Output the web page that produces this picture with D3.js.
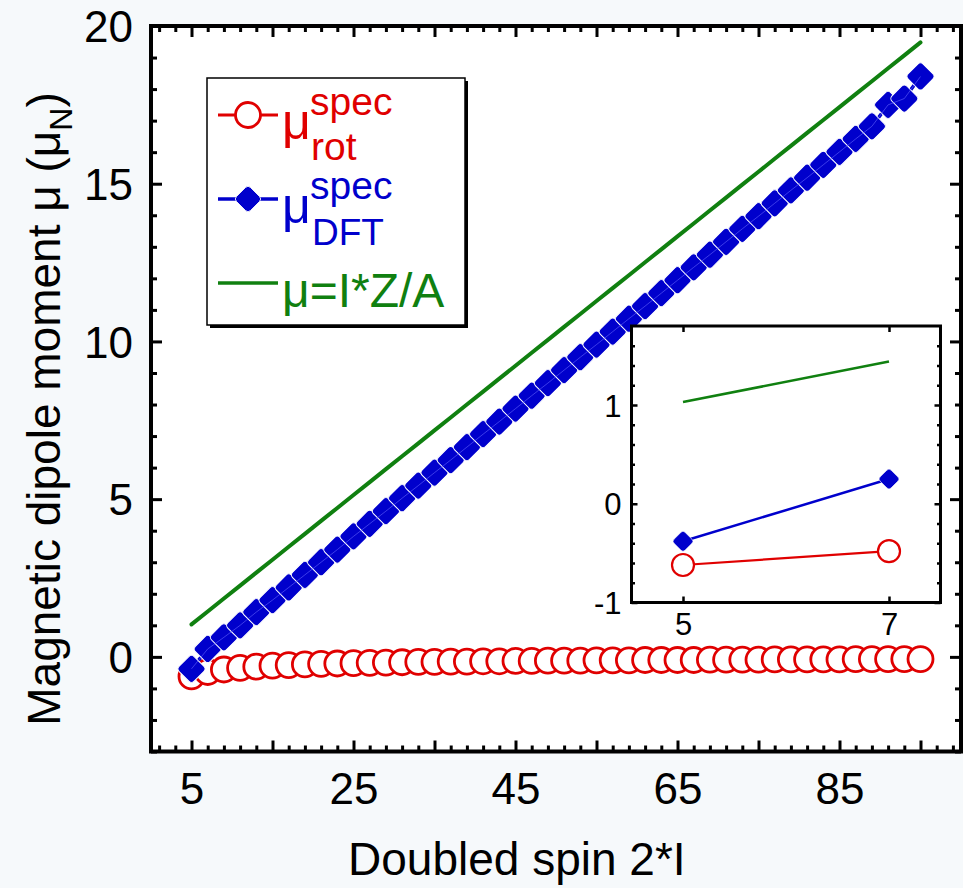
<!DOCTYPE html>
<html>
<head>
<meta charset="utf-8">
<script src="https://cdn.jsdelivr.net/npm/d3@7"></script>
<style>
  html, body { margin: 0; padding: 0; background: #f6f9fb; }
  svg { display: block; }
  text { font-family: "Liberation Sans", Arial, sans-serif; }
</style>
</head>
<body>
<svg id="chart" width="963" height="888"></svg>
<script>
// Doubled spin values 2*I
const spins = [5, 7, 9, 11, 13, 15, 17, 19, 21, 23, 25, 27, 29, 31, 33, 35, 37, 39, 41, 43, 45, 47,
  49, 51, 53, 55, 57, 59, 61, 63, 65, 67, 69, 71, 73, 75, 77, 79, 81, 83, 85, 87, 89, 91, 93, 95];

// Rotational-model spectroscopic moment
const muRot = [-0.62, -0.48, -0.40, -0.35, -0.31, -0.28, -0.26, -0.24, -0.22, -0.21, -0.20, -0.19,
  -0.18, -0.17, -0.16, -0.16, -0.15, -0.15, -0.14, -0.14, -0.13, -0.13, -0.12, -0.12, -0.12, -0.11,
  -0.11, -0.11, -0.10, -0.10, -0.10, -0.10, -0.09, -0.09, -0.09, -0.09, -0.08, -0.08, -0.08, -0.08,
  -0.08, -0.07, -0.07, -0.07, -0.07, -0.07];

// DFT spectroscopic moment
const muDFT = [-0.38, 0.25, 0.62, 1.00, 1.42, 1.80, 2.20, 2.60, 3.00, 3.40, 3.82, 4.22, 4.62, 5.03,
  5.43, 5.84, 6.24, 6.65, 7.06, 7.46, 7.87, 8.28, 8.68, 9.09, 9.50, 9.90, 10.31, 10.72, 11.12, 11.53,
  11.94, 12.35, 12.75, 13.16, 13.57, 13.97, 14.38, 14.79, 15.19, 15.60, 16.01, 16.42, 16.82, 17.50,
  17.70, 18.40];

// Collective estimate mu = I*Z/A
const muIZA = [1.03, 1.44, 1.85, 2.26, 2.67, 3.08, 3.49, 3.90, 4.31, 4.72, 5.13, 5.54, 5.95, 6.36,
  6.77, 7.18, 7.59, 8.00, 8.41, 8.82, 9.23, 9.64, 10.05, 10.46, 10.87, 11.28, 11.69, 12.10, 12.51,
  12.92, 13.33, 13.74, 14.15, 14.56, 14.97, 15.38, 15.79, 16.20, 16.61, 17.02, 17.43, 17.84, 18.25,
  18.66, 19.07, 19.48];

// Axis ticks
const xMajor = [5, 15, 25, 35, 45, 55, 65, 75, 85, 95];
const xLabels = [5, 25, 45, 65, 85];
const yMajor = [0, 5, 10, 15, 20];

// Inset: first two spins
const insetSpins = [5, 7];
const insetRot = [-0.62, -0.48];
const insetDFT = [-0.38, 0.25];
const insetIZA = [1.03, 1.44];
const insetXTicks = [5, 7];
const insetYTicks = [-1, 0, 1];

const RED = "#e00000", BLUE = "#0000cc", GREEN = "#108010";

const svg = d3.select("#chart");

// ---------- main panel ----------
const x = d3.scaleLinear().domain([0, 100]).range([151, 961]);
const y = d3.scaleLinear().domain([-3, 20]).range([751.5, 26]);

svg.append("rect")
  .attr("x", x(0)).attr("y", y(20))
  .attr("width", x(100) - x(0)).attr("height", y(-3) - y(20))
  .attr("fill", "#fff");

const odd = d3.range(1, 100, 2).filter(v => !xMajor.includes(v));
const yMinor = d3.range(-3, 20, 1).filter(v => !yMajor.includes(v));

function tickAxes(g, axisFn, scale, pos, major, minor, majorLen, minorLen, labels, fontSize) {
  const a = g.append("g").attr("transform", pos)
    .call(axisFn(scale).tickValues(major).tickSize(-majorLen)
      .tickFormat(d => labels && labels.includes(d) ? d : ""));
  a.select(".domain").remove();
  a.selectAll(".tick line").attr("stroke", "#000").attr("stroke-width", 3);
  a.selectAll(".tick text").attr("font-size", fontSize).attr("fill", "#000")
    .attr("font-family", '"Liberation Sans", Arial, sans-serif');
  const b = g.append("g").attr("transform", pos)
    .call(axisFn(scale).tickValues(minor).tickSize(-minorLen).tickFormat(""));
  b.select(".domain").remove();
  b.selectAll(".tick line").attr("stroke", "#000").attr("stroke-width", 3);
  return a;
}

const axes = svg.append("g");
const bottom = tickAxes(axes, d3.axisBottom, x, `translate(0,${y(-3)})`, xMajor, odd, 11, 6, xLabels, 44);
bottom.selectAll(".tick text").attr("y", 0).attr("dy", 0).attr("transform", "translate(0,52)");
tickAxes(axes, d3.axisTop, x, `translate(0,${y(20)})`, xMajor, odd, 11, 6, null, 44);
const left = tickAxes(axes, d3.axisLeft, y, `translate(${x(0)},0)`, yMajor, yMinor, 11, 6, yMajor, 44);
left.selectAll(".tick text").attr("x", -18).attr("dy", "0.36em");
tickAxes(axes, d3.axisRight, y, `translate(${x(100)},0)`, yMajor, yMinor, 11, 6, null, 44);

// series lines and markers
const plot = svg.append("g");
const pts = arr => spins.map((s, i) => [s, arr[i]]);

const line = d3.line().x(d => x(d[0])).y(d => y(d[1]));

plot.append("path").attr("d", line(pts(muIZA)))
  .attr("fill", "none").attr("stroke", GREEN).attr("stroke-width", 4).attr("stroke-linecap", "round");

plot.append("path").attr("d", line(pts(muRot)))
  .attr("fill", "none").attr("stroke", RED).attr("stroke-width", 3);
plot.selectAll("circle.rot").data(pts(muRot)).join("circle").attr("class", "rot")
  .attr("cx", d => x(d[0])).attr("cy", d => y(d[1])).attr("r", 12.5)
  .attr("fill", "#fff").attr("stroke", RED).attr("stroke-width", 2.8);

plot.append("path").attr("d", line(pts(muDFT)))
  .attr("fill", "none").attr("stroke", BLUE).attr("stroke-width", 3.5);
const diamond = (g, cx, cy, half, sw) => {
  const side = half * Math.SQRT2;
  g.append("rect")
    .attr("x", -side / 2).attr("y", -side / 2).attr("width", side).attr("height", side)
    .attr("rx", side * 0.18)
    .attr("transform", `translate(${cx},${cy}) rotate(45)`)
    .attr("fill", BLUE).attr("stroke", "#fff").attr("stroke-width", sw);
};
pts(muDFT).forEach(d => diamond(plot, x(d[0]), y(d[1]), 15, 1));
// thin highlight running along the DFT chain
plot.append("path").attr("d", line(pts(muDFT)))
  .attr("fill", "none").attr("stroke", "#6a6aff").attr("stroke-width", 0.8).attr("opacity", 0.7);

// frame
svg.append("rect")
  .attr("x", x(0)).attr("y", y(20))
  .attr("width", x(100) - x(0)).attr("height", y(-3) - y(20))
  .attr("fill", "none").attr("stroke", "#000").attr("stroke-width", 4);

// axis titles
svg.append("text").attr("x", 348).attr("y", 875).attr("font-size", 46).attr("fill", "#000")
  .text("Doubled spin 2*I");

const yt = svg.append("text").attr("transform", "translate(60,409) rotate(-90)")
  .attr("text-anchor", "middle").attr("font-size", 46).attr("fill", "#000");
yt.append("tspan").text("Magnetic dipole moment μ (μ");
yt.append("tspan").attr("font-size", 32).attr("dy", 12).text("N");
yt.append("tspan").attr("dy", -12).text(")");

// ---------- legend ----------
const lg = svg.append("g");
const L = { x: 207, y: 78, w: 258, h: 247 };
lg.append("rect").attr("x", L.x + 3).attr("y", L.y + 3).attr("width", L.w).attr("height", L.h).attr("fill", "#000");
lg.append("rect").attr("x", L.x).attr("y", L.y).attr("width", L.w).attr("height", L.h)
  .attr("fill", "#fff").attr("stroke", "#000").attr("stroke-width", 1.5);

// rot entry
lg.append("line").attr("x1", 218).attr("x2", 278).attr("y1", 115).attr("y2", 115)
  .attr("stroke", RED).attr("stroke-width", 3);
lg.append("circle").attr("cx", 248).attr("cy", 115).attr("r", 12.5)
  .attr("fill", "#fff").attr("stroke", RED).attr("stroke-width", 2.8);
lg.append("text").attr("x", 282).attr("y", 139).attr("font-size", 50).attr("fill", RED).text("μ");
lg.append("text").attr("x", 310).attr("y", 115).attr("font-size", 39).attr("fill", RED).text("spec");
lg.append("text").attr("x", 311).attr("y", 160).attr("font-size", 39).attr("fill", RED).text("rot");

// DFT entry
lg.append("line").attr("x1", 218).attr("x2", 278).attr("y1", 199).attr("y2", 199)
  .attr("stroke", BLUE).attr("stroke-width", 3.5);
diamond(lg, 248, 199, 14, 0.8);
lg.append("text").attr("x", 282).attr("y", 223).attr("font-size", 50).attr("fill", BLUE).text("μ");
lg.append("text").attr("x", 310).attr("y", 199).attr("font-size", 39).attr("fill", BLUE).text("spec");
lg.append("text").attr("x", 312).attr("y", 245).attr("font-size", 37).attr("fill", BLUE).text("DFT");

// I*Z/A entry
lg.append("line").attr("x1", 218).attr("x2", 278).attr("y1", 283).attr("y2", 283)
  .attr("stroke", GREEN).attr("stroke-width", 3.5);
lg.append("text").attr("x", 282).attr("y", 307).attr("font-size", 48).attr("fill", GREEN).text("μ=I*Z/A");

// ---------- inset ----------
const ix = d3.scaleLinear().domain([4.5, 7.5]).range([631.5, 940.5]);
const iy = d3.scaleLinear().domain([-1, 1.8]).range([602.5, 326]);
const inset = svg.append("g");
inset.append("rect").attr("x", ix(4.5)).attr("y", iy(1.8))
  .attr("width", ix(7.5) - ix(4.5)).attr("height", iy(-1) - iy(1.8)).attr("fill", "#fff");

const iyMinor = d3.range(-0.8, 1.8, 0.2).map(v => +v.toFixed(1)).filter(v => !insetYTicks.includes(v));
function insetAxis(axisFn, scale, pos, major, minor, labels) {
  const a = inset.append("g").attr("transform", pos)
    .call(axisFn(scale).tickValues(major).tickSize(-6).tickFormat(d => labels ? d : ""));
  a.select(".domain").remove();
  a.selectAll(".tick line").attr("stroke", "#000").attr("stroke-width", 2.5);
  a.selectAll(".tick text").attr("font-size", 31).attr("fill", "#000")
    .attr("font-family", '"Liberation Sans", Arial, sans-serif');
  if (minor.length) {
    const b = inset.append("g").attr("transform", pos)
      .call(axisFn(scale).tickValues(minor).tickSize(-3.5).tickFormat(""));
    b.select(".domain").remove();
    b.selectAll(".tick line").attr("stroke", "#000").attr("stroke-width", 2.5);
  }
  return a;
}
const ib = insetAxis(d3.axisBottom, ix, `translate(0,${iy(-1)})`, insetXTicks, [], true);
ib.selectAll(".tick text").attr("y", 0).attr("dy", 0).attr("transform", "translate(0,32)");
insetAxis(d3.axisTop, ix, `translate(0,${iy(1.8)})`, insetXTicks, [], false);
const il = insetAxis(d3.axisLeft, iy, `translate(${ix(4.5)},0)`, insetYTicks, iyMinor, true);
il.selectAll(".tick text").attr("x", -10).attr("dy", "0.36em");
insetAxis(d3.axisRight, iy, `translate(${ix(7.5)},0)`, insetYTicks, iyMinor, false);

const ipts = arr => insetSpins.map((s, i) => [s, arr[i]]);
const iline = d3.line().x(d => ix(d[0])).y(d => iy(d[1]));
inset.append("path").attr("d", iline(ipts(insetIZA)))
  .attr("fill", "none").attr("stroke", GREEN).attr("stroke-width", 2.5);
inset.append("path").attr("d", iline(ipts(insetDFT)))
  .attr("fill", "none").attr("stroke", BLUE).attr("stroke-width", 2.5);
ipts(insetDFT).forEach(d => diamond(inset, ix(d[0]), iy(d[1]), 11, 0.6));
inset.append("path").attr("d", iline(ipts(insetRot)))
  .attr("fill", "none").attr("stroke", RED).attr("stroke-width", 2.2);
inset.selectAll("circle.irot").data(ipts(insetRot)).join("circle").attr("class", "irot")
  .attr("cx", d => ix(d[0])).attr("cy", d => iy(d[1])).attr("r", 11)
  .attr("fill", "#fff").attr("stroke", RED).attr("stroke-width", 2.2);

inset.append("rect").attr("x", ix(4.5)).attr("y", iy(1.8))
  .attr("width", ix(7.5) - ix(4.5)).attr("height", iy(-1) - iy(1.8))
  .attr("fill", "none").attr("stroke", "#000").attr("stroke-width", 3);
</script>
</body>
</html>
